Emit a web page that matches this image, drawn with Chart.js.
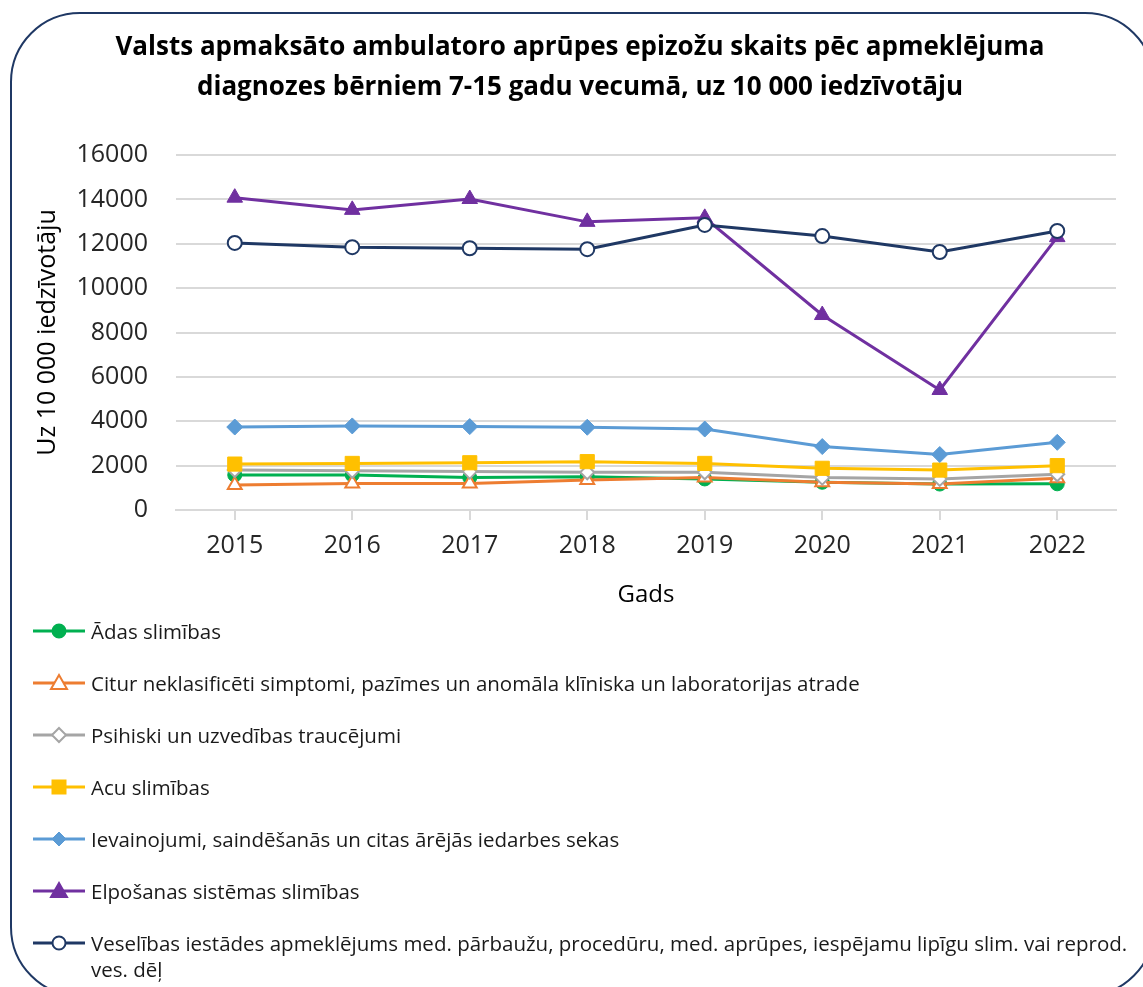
<!DOCTYPE html>
<html>
<head>
<meta charset="utf-8">
<script src="https://cdn.jsdelivr.net/npm/chart.js@4/dist/chart.umd.min.js"></script>
<style>
  html, body { margin: 0; padding: 0; background: #fff; overflow: hidden; }
  body { width: 1143px; height: 987px; position: relative; font-family: 'Open Sans', sans-serif; }
  #wrap { position: absolute; left: 0; top: 0; width: 1143px; height: 610px; }
  #frame {
    position: absolute; left: 10px; top: 12px; width: 1145px; height: 985px;
    box-sizing: border-box; border: 2px solid #1f3864; border-radius: 70px;
    pointer-events: none;
  }
  #legend { position: absolute; left: 33px; top: 605px; width: 1108px; }
  .item { display: flex; align-items: flex-start; min-height: 52px; }
  .item svg { flex: 0 0 auto; margin-top: 13px; }
  .item span { margin-left: 6px; padding-top: 13px; font-size: 20.5px; line-height: 26px; color: #1a1a1a; }
</style>
</head>
<body>
<div id="wrap"><canvas id="chart" width="1143" height="610"></canvas></div>
<div id="legend"></div>
<div id="frame"></div>
<script>
const YEARS = ['2015', '2016', '2017', '2018', '2019', '2020', '2021', '2022'];

const adas        = [1580, 1580, 1460, 1500, 1400, 1250, 1170, 1180];
const citur       = [1130, 1200, 1200, 1350, 1460, 1250, 1170, 1430];
const psihiski    = [1800, 1770, 1730, 1700, 1700, 1460, 1400, 1610];
const acu         = [2070, 2100, 2130, 2180, 2100, 1880, 1800, 2000];
const ievainojumi = [3740, 3790, 3760, 3730, 3650, 2860, 2500, 3050];
const elposanas   = [14080, 13530, 14020, 12990, 13170, 8790, 5410, 12300];
const veselibas   = [12040, 11850, 11800, 11760, 12850, 12350, 11630, 12580];

const SERIES = [
  { label: 'Ādas slimības', data: adas, color: '#00b050', shape: 'circle', hollow: false, r: 7 },
  { label: 'Citur neklasificēti simptomi, pazīmes un anomāla klīniska un laboratorijas atrade', data: citur, color: '#ed7d31', shape: 'triangle', hollow: true, r: 8 },
  { label: 'Psihiski un uzvedības traucējumi', data: psihiski, color: '#a5a5a5', shape: 'rectRot', hollow: true, r: 7 },
  { label: 'Acu slimības', data: acu, color: '#ffc000', shape: 'rect', hollow: false, r: 10 },
  { label: 'Ievainojumi, saindēšanās un citas ārējās iedarbes sekas', data: ievainojumi, color: '#5b9bd5', shape: 'rectRot', hollow: false, r: 8 },
  { label: 'Elpošanas sistēmas slimības', data: elposanas, color: '#7030a0', shape: 'triangle', hollow: false, r: 9 },
  { label: 'Veselības iestādes apmeklējums med. pārbaužu, procedūru, med. aprūpes, iespējamu lipīgu slim. vai reprod. ves. dēļ', data: veselibas, color: '#1f3864', shape: 'circle', hollow: true, r: 7 },
];

const TITLE = [
  'Valsts apmaksāto ambulatoro aprūpes epizožu skaits pēc apmeklējuma',
  'diagnozes bērniem 7-15 gadu vecumā, uz 10 000 iedzīvotāju',
];

const FONT = "'Open Sans', sans-serif";
const GRID = '#d9d9d9';

new Chart(document.getElementById('chart'), {
  type: 'line',
  data: {
    labels: YEARS,
    datasets: SERIES.map((s, i) => ({
      label: s.label,
      data: s.data,
      borderColor: s.color,
      backgroundColor: s.hollow ? '#ffffff' : s.color,
      borderWidth: 3,
      tension: 0,
      pointStyle: s.shape,
      pointRadius: s.r,
      pointBorderWidth: s.hollow ? 2 : 1,
      pointBorderColor: s.color,
      pointBackgroundColor: s.hollow ? '#ffffff' : s.color,
      order: SERIES.length - i,
    })),
  },
  options: {
    responsive: false,
    devicePixelRatio: 1,
    animation: false,
    layout: { padding: { left: 44, right: 27, top: 0, bottom: 0 } },
    plugins: {
      legend: { display: false },
      tooltip: { enabled: false },
      title: {
        display: true,
        text: TITLE,
        color: '#000',
        font: { family: FONT, size: 26, weight: 'bold', lineHeight: 1.54 },
        padding: { top: 28, bottom: 47 },
      },
    },
    scales: {
      x: {
        offset: true,
        grid: { drawOnChartArea: false, drawTicks: true, tickLength: 10, color: GRID, lineWidth: 2 },
        border: { display: true, color: GRID, width: 2 },
        ticks: { color: '#262626', font: { family: FONT, size: 25 }, padding: 11, maxRotation: 0 },
        title: { display: true, text: 'Gads', color: '#000', font: { family: FONT, size: 24 }, padding: { top: 2, bottom: 0 } },
        afterFit: (scale) => { scale.height = 100; },
      },
      y: {
        min: 0,
        max: 16000,
        ticks: {
          stepSize: 2000, color: '#262626', font: { family: FONT, size: 25 }, padding: 28,
          callback: (v) => String(v),
        },
        grid: { color: GRID, lineWidth: 2, drawTicks: false },
        border: { display: false },
        title: { display: true, text: 'Uz 10 000 iedzīvotāju', color: '#000', font: { family: FONT, size: 25 }, padding: { top: -11, bottom: 0 } },
        afterFit: (scale) => { scale.width = 132; },
      },
    },
  },
});

// --- HTML legend ---
function markerSvg(s) {
  const c = s.color;
  const fill = s.hollow ? '#ffffff' : c;
  let shape = '';
  if (s.shape === 'circle') shape = `<circle cx="26" cy="13" r="6.5" fill="${fill}" stroke="${c}" stroke-width="2"/>`;
  if (s.shape === 'triangle') shape = `<polygon points="26,5 34,19 18,19" fill="${fill}" stroke="${c}" stroke-width="2"/>`;
  if (s.shape === 'rectRot') shape = `<polygon points="26,6 33,13 26,20 19,13" fill="${fill}" stroke="${c}" stroke-width="${s.hollow ? 2 : 1}"/>`;
  if (s.shape === 'rect') shape = `<rect x="19" y="6" width="14" height="14" fill="${fill}" stroke="${c}"/>`;
  return `<svg width="52" height="26" viewBox="0 0 52 26"><line x1="0" y1="13" x2="52" y2="13" stroke="${c}" stroke-width="3"/>${shape}</svg>`;
}

const legend = document.getElementById('legend');
SERIES.forEach((s) => {
  const item = document.createElement('div');
  item.className = 'item';
  item.innerHTML = `${markerSvg(s)}<span>${s.label}</span>`;
  legend.appendChild(item);
});
</script>
</body>
</html>
